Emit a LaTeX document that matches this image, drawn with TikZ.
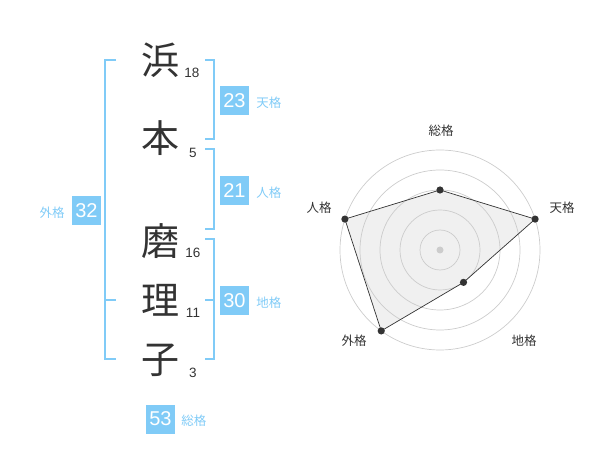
\documentclass[tikz,border=0pt]{standalone}
\usepackage{fontspec}
\setmainfont{Liberation Sans}
\newfontfamily\jpfont{Noto Sans CJK JP}
\usetikzlibrary{positioning,calc}
\definecolor{skyblue}{HTML}{80CBF7}
\definecolor{ink}{HTML}{333333}
\definecolor{gridgray}{HTML}{CCCCCC}

\begin{document}
\begin{tikzpicture}[x=1pt,y=-1pt,
    kanji/.style={font=\jpfont\fontsize{38}{38}\selectfont, text=ink, inner sep=0pt},
    strokes/.style={font=\fontsize{13.5}{13.5}\selectfont, text=ink, inner sep=0pt},
    score/.style={fill=skyblue, text=white, minimum size=29pt, inner sep=0pt, font=\fontsize{20}{20}\selectfont},
    kaku/.style={font=\jpfont\fontsize{12.5}{12.5}\selectfont, text=skyblue, inner sep=0pt, yshift=-2pt},
    axislabel/.style={font=\jpfont\fontsize{12.5}{12.5}\selectfont, text=ink, inner sep=0pt},
    bracket/.style={draw=skyblue, line width=2pt},
    ring/.style={draw=gridgray, line width=0.7pt}]
    \useasboundingbox (0,0) rectangle (600,470);
    % name
    \node[kanji] (hama) at (160,60) {浜};
    \node[kanji] (moto) at (160,138) {本};
    \node[kanji] (ma) at (160,241) {磨};
    \node[kanji] (ri) at (160,300) {理};
    \node[kanji] (ko) at (160,360) {子};
    \node[strokes] (n1) at (192,73) {18};
    \node[strokes] (n2) at (193,153) {5};
    \node[strokes] (n3) at (193,253) {16};
    \node[strokes] (n4) at (193,313) {11};
    \node[strokes] (n5) at (193,373) {3};
    % brackets
    \draw[bracket] (205,60) -- (214,60) -- (214,139) -- (205,139);
    \draw[bracket] (205,149) -- (214,149) -- (214,229) -- (205,229);
    \draw[bracket] (205,239) -- (214,239) -- (214,359) -- (205,359);
    \draw[bracket] (205,300) -- (214,300);
    \draw[bracket] (116,60) -- (105,60) -- (105,359) -- (116,359);
    \draw[bracket] (105,300) -- (116,300);
    % scores
    \node[score] (ten) at (234.5,100.5) {23};
    \node[kaku, right=7pt of ten] {天格};
    \node[score] (jin) at (234.5,190.5) {21};
    \node[kaku, right=7pt of jin] {人格};
    \node[score] (chi) at (234.5,300.5) {30};
    \node[kaku, right=7pt of chi] {地格};
    \node[score] (gai) at (86.5,210.5) {32};
    \node[kaku, left=7pt of gai] {外格};
    \node[score] (sou) at (160.5,419) {53};
    \node[kaku, right=6pt of sou] {総格};
    % radar
    \coordinate (C) at (440,250);
    \coordinate (Psou) at ($(C)+(-90:60)$);
    \coordinate (Pten) at ($(C)+(-18:100)$);
    \coordinate (Pchi) at ($(C)+(54:40)$);
    \coordinate (Pgai) at ($(C)+(126:100)$);
    \coordinate (Pjin) at ($(C)+(198:100)$);
    \fill[black!6] (Psou) -- (Pten) -- (Pchi) -- (Pgai) -- (Pjin) -- cycle;
    \foreach \r in {20,40,...,100}
      \draw[ring] (C) circle (\r);
    \fill[gridgray] (C) circle (3.5);
    \draw[ink, line width=0.7pt] (Psou) -- (Pten) -- (Pchi) -- (Pgai) -- (Pjin) -- cycle;
    \foreach \p in {Psou,Pten,Pchi,Pgai,Pjin}
      \fill[ink] (\p) circle (3.6);
    \node[axislabel] (lsou) at (441,131) {総格};
    \node[axislabel] (lten) at (562,208) {天格};
    \node[axislabel] (lchi) at (524,341) {地格};
    \node[axislabel] (lgai) at (354,341) {外格};
    \node[axislabel] (ljin) at (319,208) {人格};
\end{tikzpicture}
\end{document}
